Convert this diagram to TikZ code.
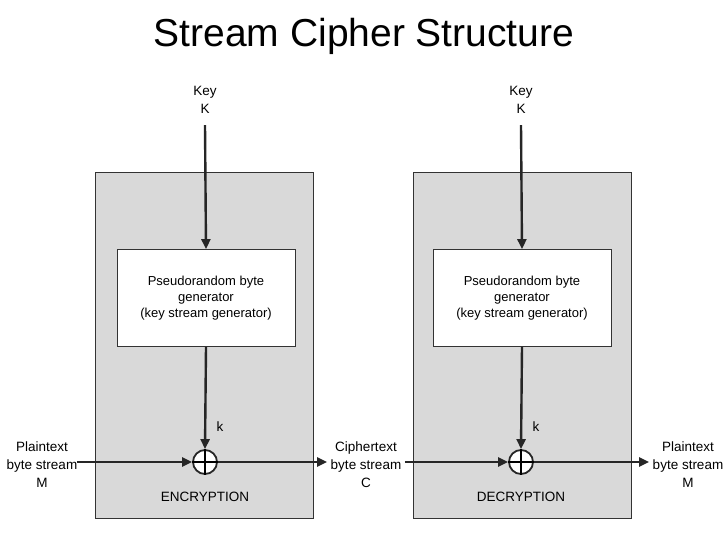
\documentclass[tikz,border=0pt]{standalone}
\usepackage{fontspec}
\setmainfont{Liberation Sans}
\usetikzlibrary{arrows.meta, positioning}

\begin{document}
\begin{tikzpicture}[
        x=1pt, y=-1pt,
        % Estilos
        stage/.style={draw=black!80, fill=black!15, line width=0.8pt},
        genbox/.style={draw=black!80, fill=white, line width=0.8pt,
                minimum width=178pt, minimum height=97pt, align=center,
                font=\fontsize{13}{16}\selectfont},
        xorop/.style={circle, draw=black!85, fill=white, line width=1.8pt,
                minimum size=24pt, inner sep=0pt},
        label/.style={align=center, font=\fontsize{13.5}{18}\selectfont},
        arrow/.style={-{Triangle[length=10pt,width=9pt]}, line width=2.4pt, color=black!85}
    ]

    \useasboundingbox (0,0) rectangle (728,546);

    % TITULO
    \node[font=\fontsize{39}{44}\selectfont] (titulo) at (364,36) {Stream Cipher Structure};

    % BLOQUES
    \draw[stage] (95,172) rectangle (313,518);
    \draw[stage] (413,172) rectangle (631,518);

    % CIFRADO
    \node[label] (keyE) at (205,100) {Key\\K};
    \node[genbox] (genE) at (206,298) {Pseudorandom byte\\generator\\(key stream generator)};
    \node[xorop] (xorE) at (205,462) {};
    \draw[line width=1.8pt] (xorE.north) -- (xorE.south) (xorE.west) -- (xorE.east);
    \node[label] (kE) at (220,427) {k};
    \node[label] (encr) at (205,497) {ENCRYPTION};

    % DESCIFRADO
    \node[label] (keyD) at (521,100) {Key\\K};
    \node[genbox] (genD) at (522,298) {Pseudorandom byte\\generator\\(key stream generator)};
    \node[xorop] (xorD) at (521,462) {};
    \draw[line width=1.8pt] (xorD.north) -- (xorD.south) (xorD.west) -- (xorD.east);
    \node[label] (kD) at (536,427) {k};
    \node[label] (decr) at (521,497) {DECRYPTION};

    % TEXTOS
    \node[label] (plainIn) at (42,465) {Plaintext\\byte stream\\M};
    \node[label] (cipher) at (366,465) {Ciphertext\\byte stream\\C};
    \node[label] (plainOut) at (688,465) {Plaintext\\byte stream\\M};

    % FLECHAS
    \draw[arrow] (keyE.south) ++(0,8) -- (genE.north);
    \draw[arrow] (genE.south) -- (xorE.north);
    \draw[arrow] (keyD.south) ++(0,8) -- (genD.north);
    \draw[arrow] (genD.south) -- (xorD.north);
    \draw[arrow] (plainIn.east |- xorE) ++(-4,0) -- (xorE.west);
    \draw[arrow] (xorE.east) -- (cipher.west |- xorE);
    \draw[arrow] (cipher.east |- xorD) -- (xorD.west);
    \draw[arrow] (xorD.east) -- (plainOut.west |- xorD);

\end{tikzpicture}
\end{document}
